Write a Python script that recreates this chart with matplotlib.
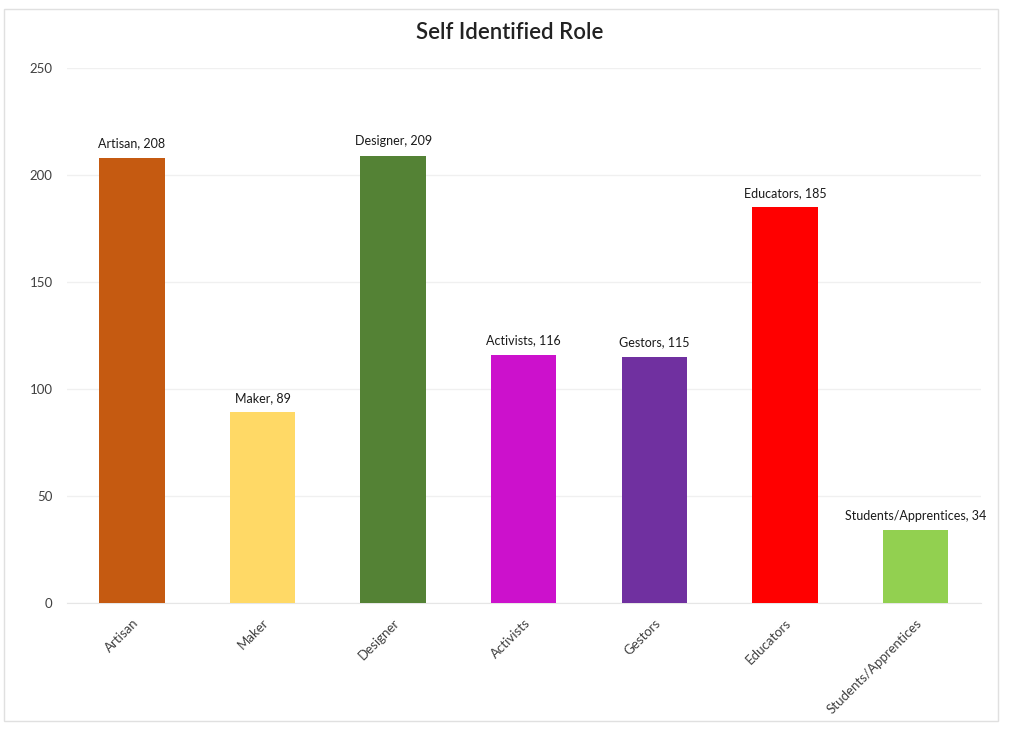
import matplotlib.pyplot as plt
from matplotlib.patches import Rectangle

plt.rcParams['font.family'] = ['Lato', 'DejaVu Sans']

# data
roles = ['Artisan', 'Maker', 'Designer', 'Activists', 'Gestors', 'Educators',
         'Students/Apprentices']
counts = [208, 89, 209, 116, 115, 185, 34]
colors = ['#C55A11', '#FFD966', '#548235', '#CC11CC', '#7030A0', '#FF0000', '#92D050']
yticks = [0, 50, 100, 150, 200, 250]

fig = plt.figure(figsize=(10.09, 7.3), dpi=100)
ax = fig.add_axes([0.066, 0.174, 0.906, 0.733])

x = range(len(roles))
bars = ax.bar(x, counts, width=0.5, color=colors, zorder=3)

# data labels "Name, value"
for i, (name, val) in enumerate(zip(roles, counts)):
    ax.annotate(f'{name}, {val}', (i, val), xytext=(0, 6), textcoords='offset points',
                ha='center', va='bottom', fontsize=9, color='#1a1a1a')

ax.set_xlim(-0.5, len(roles) - 0.5)
ax.set_ylim(0, 250)
ax.set_yticks(yticks)
ax.set_xticks(list(x))
ax.set_xticklabels(roles, rotation=45, ha='right', rotation_mode='anchor',
                   fontsize=9.5, color='#404040')
ax.tick_params(axis='y', labelsize=9.5, labelcolor='#404040', length=0, pad=10)
ax.tick_params(axis='x', length=0, pad=10)

ax.grid(axis='y', color='#f0f0f0', linewidth=1, zorder=0)
for s in ['top', 'right', 'left']:
    ax.spines[s].set_visible(False)
ax.spines['bottom'].set_color('#e6e6e6')

fig.text(0.505, 0.955, 'Self Identified Role', fontsize=16, fontweight='semibold',
         color='#222222', ha='center', va='center')

# faint frame around the chart
fig.patches.append(Rectangle((0.004, 0.012), 0.985, 0.975, transform=fig.transFigure,
                             fill=False, edgecolor='#e0e0e0', linewidth=1))

fig.savefig('out.png', dpi=100)
